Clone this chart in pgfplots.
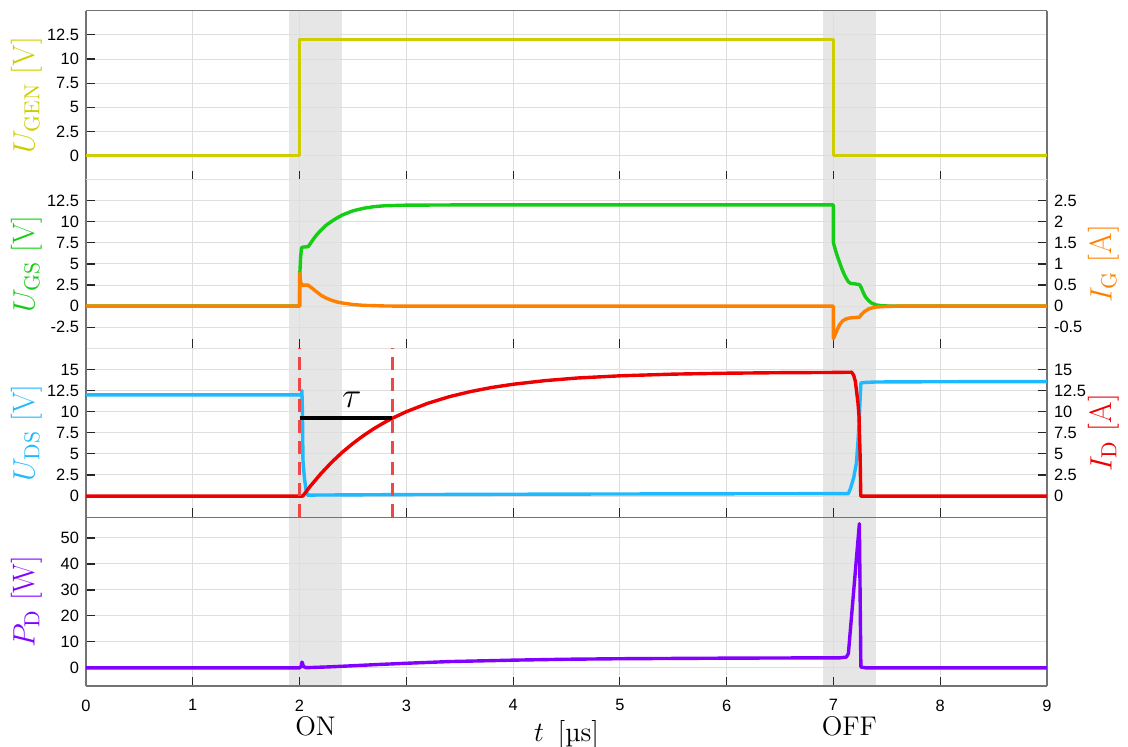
\RequirePackage{fix-cm}
\documentclass[border=0pt]{standalone}
\usepackage{pgfplots}
\pgfplotsset{compat=1.18}
\usepackage{fontspec}
\newfontfamily\arial{Liberation Sans}
\definecolor{cgen}{RGB}{205,205,0}
\definecolor{cgs}{RGB}{20,205,20}
\definecolor{cig}{RGB}{255,128,0}
\definecolor{cds}{RGB}{30,185,255}
\definecolor{cid}{RGB}{238,0,0}
\definecolor{cpd}{RGB}{130,0,255}
\definecolor{shadec}{RGB}{230,230,230}
\definecolor{dashc}{RGB}{240,70,70}
\newcommand{\lab}{\fontsize{15.5}{18}\selectfont}
\pgfplotsset{
  set layers,
  base/.style={
    scale only axis, width=480.5pt, height=84.4pt,
    xmin=0, xmax=9, xtick={0,...,9},
    clip=false,
    grid=major, major grid style={black!13, line width=0.5pt},
    separate axis lines,
    axis line style={black!55, line width=0.6pt},
    tick style={black!85, line width=0.6pt},
    major tick length=4.5pt,
    tick align=inside,
    xtick pos=bottom, ytick pos=left,
    ticklabel style={font=\arial\fontsize{8.2}{9}\selectfont},
    xticklabel style={yshift=-3.3pt},
    /pgf/number format/assume math mode=true,
    /pgf/number format/fixed, /pgf/number format/precision=1,
    every axis plot/.append style={line width=1.7pt, line join=round},
  },
  faintx/.style={every outer x axis line/.append style={draw=black!12}},
  rightax/.style={
    scale only axis, width=480.5pt, height=84.4pt,
    xmin=0, xmax=9, clip=false,
    axis x line=none, axis y line*=right,
    axis line style={black!55, line width=0.6pt},
    tick style={black!85, line width=0.6pt},
    major tick length=4.5pt,
    tick align=inside,
    ticklabel style={font=\arial\fontsize{8.2}{9}\selectfont},
    /pgf/number format/assume math mode=true,
    /pgf/number format/fixed, /pgf/number format/precision=1,
    every axis plot/.append style={line width=1.7pt, line join=round},
  },
  shade/.style={fill=shadec, draw=none, line width=0pt, on layer=axis background},
}
\newcommand{\leftlab}[2]{\node[rotate=90, text=#1] at (rel axis cs:-0.0614,0.5) {\lab #2};}
\newcommand{\rightlab}[2]{\node[rotate=90, text=#1] at (rel axis cs:1.0593,0.5) {\lab #2};}
\begin{document}
\begin{tikzpicture}

% ---------- Panel 1: U_GEN
\begin{axis}[base, faintx, at={(0,253.2pt)}, anchor=south west,
  ymin=-2.5, ymax=15, ytick={0,2.5,5,7.5,10,12.5}, xticklabels={}]
\addplot[shade] coordinates {(1.9,-2.5) (2.4,-2.5) (2.4,15) (1.9,15)};
\addplot[shade] coordinates {(6.9,-2.5) (7.4,-2.5) (7.4,15) (6.9,15)};
\draw[black!55, line width=0.6pt] (rel axis cs:0,1) -- (rel axis cs:1,1);
\addplot[cgen] coordinates {(0,0) (2.0,0) (2.0,12) (7.0,12) (7.0,0) (9,0)};
\leftlab{cgen}{$U_{\mathrm{GEN}}$ [V]}
\end{axis}

% ---------- Panel 2: U_GS (left) and I_G (right)
\begin{axis}[base, faintx, at={(0,168.8pt)}, anchor=south west,
  ymin=-5, ymax=15, ytick={-2.5,0,2.5,5,7.5,10,12.5}, xticklabels={}]
\addplot[shade] coordinates {(1.9,-5) (2.4,-5) (2.4,15) (1.9,15)};
\addplot[shade] coordinates {(6.9,-5) (7.4,-5) (7.4,15) (6.9,15)};
\addplot[cgs] coordinates {
 (0,0) (2.0,0) (2.003,4.0) (2.01,5.8) (2.018,6.9) (2.03,7.0) (2.08,7.05)
 (2.1,7.4) (2.13,7.95) (2.16,8.45) (2.2,9.0) (2.25,9.6) (2.3,10.05) (2.35,10.45)
 (2.4,10.8) (2.5,11.3) (2.6,11.6) (2.7,11.8) (2.8,11.9) (3.0,11.97) (3.5,12.0)
 (7.0,12.0) (7.0,7.5) (7.02,6.6) (7.04,5.8) (7.06,5.1) (7.08,4.4) (7.1,3.8)
 (7.12,3.3) (7.14,2.9) (7.16,2.7) (7.2,2.65) (7.245,2.55) (7.26,2.2) (7.28,1.6)
 (7.3,1.1) (7.33,0.65) (7.36,0.35) (7.4,0.15) (7.45,0.06) (7.55,0.0) (9,0)};
\leftlab{cgs}{$U_{\mathrm{GS}}$ [V]}
\end{axis}
\begin{axis}[rightax, at={(0,168.8pt)}, anchor=south west,
  ymin=-1, ymax=3, ytick={-0.5,0,0.5,1,1.5,2,2.5}]
\addplot[cig] coordinates {
 (0,0) (2.0,0) (2.0,0.78) (2.005,0.68) (2.012,0.56) (2.025,0.5) (2.08,0.5)
 (2.1,0.46) (2.15,0.36) (2.2,0.26) (2.25,0.19) (2.3,0.14) (2.35,0.1) (2.4,0.075)
 (2.5,0.04) (2.6,0.02) (2.8,0.005) (3.0,0) (7.0,0) (7.0,-0.77) (7.02,-0.65)
 (7.04,-0.53) (7.06,-0.43) (7.09,-0.34) (7.12,-0.3) (7.15,-0.28) (7.245,-0.26)
 (7.26,-0.2) (7.29,-0.13) (7.32,-0.08) (7.34,-0.055) (7.4,-0.02) (7.5,-0.005)
 (7.6,0) (9,0)};
\rightlab{cig}{$I_{\mathrm{G}}$ [A]}
\end{axis}

% ---------- Panel 3: U_DS (left) and I_D (right)
\begin{axis}[base, faintx, at={(0,84.4pt)}, anchor=south west,
  ymin=-2.5, ymax=17.5, ytick={0,2.5,5,7.5,10,12.5,15}, xticklabels={}]
\addplot[shade] coordinates {(1.9,-2.5) (2.4,-2.5) (2.4,17.5) (1.9,17.5)};
\addplot[shade] coordinates {(6.9,-2.5) (7.4,-2.5) (7.4,17.5) (6.9,17.5)};
\addplot[cds] coordinates {
 (0,12) (2.02,12) (2.022,12.5) (2.027,10) (2.032,4.2) (2.045,2.2) (2.06,0.8)
 (2.075,0.1) (2.1,0.12) (3,0.18) (4,0.22) (5,0.25) (6,0.27) (7,0.29) (7.14,0.3)
 (7.16,0.9) (7.19,2.2) (7.215,3.9) (7.23,6.5) (7.24,8.6) (7.25,11.5) (7.257,13.4)
 (7.3,13.47) (7.4,13.52) (8,13.55) (9,13.57)};
\leftlab{cds}{$U_{\mathrm{DS}}$ [V]}
\end{axis}
\begin{axis}[rightax, at={(0,84.4pt)}, anchor=south west,
  ymin=-2.5, ymax=17.5, ytick={0,2.5,5,7.5,10,12.5,15}]
\addplot[cid] coordinates {
 (0,0) (2.03,0) (2.1,1.16) (2.2,2.66) (2.3,4.00) (2.4,5.19) (2.5,6.24) (2.6,7.18)
 (2.7,8.02) (2.8,8.76) (2.87,9.23) (3.0,10.00) (3.2,10.99) (3.4,11.77) (3.6,12.38)
 (3.8,12.87) (4.0,13.25) (4.3,13.68) (4.6,13.99) (5.0,14.25) (5.5,14.45)
 (6.0,14.56) (6.5,14.62) (7.0,14.65) (7.17,14.68) (7.19,14.3) (7.205,13.6)
 (7.215,12.6) (7.23,11.0) (7.24,9.4) (7.25,4.7) (7.256,0) (9,0)};
\addplot[dashc, line width=1.3pt, dash pattern=on 6.5pt off 4pt] coordinates {(2.0,-2.5) (2.0,17.5)};
\addplot[dashc, line width=1.3pt, dash pattern=on 6.5pt off 4pt] coordinates {(2.87,-2.5) (2.87,17.5)};
\addplot[black, line width=1.7pt] coordinates {(2.0,9.23) (2.87,9.23)};
\node at (axis cs:2.49,11.4) {\fontsize{18}{20}\selectfont$\tau$};
\rightlab{cid}{$I_{\mathrm{D}}$ [A]}
\end{axis}

% ---------- Panel 4: P_D
\begin{axis}[base, at={(0,0)}, anchor=south west,
  ymin=-7, ymax=58, ytick={0,10,20,30,40,50}]
\addplot[shade] coordinates {(1.9,-7) (2.4,-7) (2.4,58) (1.9,58)};
\addplot[shade] coordinates {(6.9,-7) (7.4,-7) (7.4,58) (6.9,58)};
\addplot[cpd] coordinates {
 (0,0) (2.0,0) (2.015,0.5) (2.022,2.2) (2.028,1.8) (2.035,0.5) (2.06,0.1)
 (2.1,0.1) (2.3,0.4) (2.5,0.8) (2.75,1.3) (3.0,1.75) (3.4,2.4) (4.0,2.95)
 (4.5,3.3) (5.0,3.5) (6.0,3.72) (7.0,3.85) (7.05,3.8) (7.12,4.1) (7.14,5.5)
 (7.243,55.5) (7.257,0.3) (7.3,0) (9,0)};
\leftlab{cpd}{$P_{\mathrm{D}}$ [W]}
\node at (rel axis cs:0.5,-0.2844) {\fontsize{14}{16}\selectfont$t$\, [µs]};
\node at ([yshift=-20pt]axis cs:2.15,-7) {\fontsize{13.5}{15}\selectfont ON};
\node at ([yshift=-20pt]axis cs:7.15,-7) {\fontsize{13.5}{15}\selectfont OFF};
\end{axis}
\pgfresetboundingbox
\path (-43pt,-30.5pt) rectangle (521pt,343pt);
\end{tikzpicture}
\end{document}
